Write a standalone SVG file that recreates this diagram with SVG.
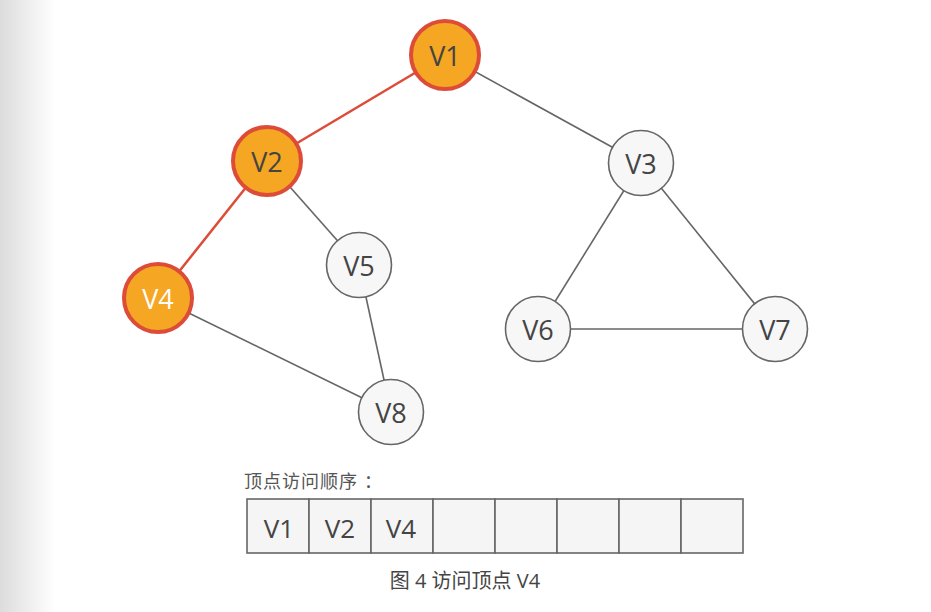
<svg xmlns="http://www.w3.org/2000/svg" width="931" height="612" viewBox="0 0 931 612">
<defs>
<linearGradient id="side" x1="0" y1="0" x2="1" y2="0">
<stop offset="0" stop-color="#dcdcdc"/>
<stop offset="1" stop-color="#ffffff"/>
</linearGradient>
<style>
.n circle{fill:#f7f7f7;stroke:#666;stroke-width:1.6}
.n.v circle{fill:#f5a623;stroke:#dd4b39;stroke-width:4}
.n text{font-family:"Open Sans","Noto Sans",sans-serif;font-size:27px;fill:#444;text-anchor:middle;dominant-baseline:central}
.n.w text{fill:#fdfdfd}
.e{stroke:#666;stroke-width:1.6;fill:none}
.e.r{stroke:#dd4b39;stroke-width:2.5}
.cell{fill:#f5f5f5;stroke:#666;stroke-width:1.6}
.ct{font-family:"Open Sans","Noto Sans",sans-serif;font-size:26px;fill:#444;text-anchor:middle;dominant-baseline:central}
.lbl{font-family:"Noto Sans CJK SC","Open Sans",sans-serif;font-size:18px;fill:#555;letter-spacing:1px}
.cap{font-family:"Open Sans","Noto Sans CJK SC",sans-serif;font-size:20px;fill:#444;text-anchor:middle}
</style>
</defs>
<rect width="931" height="612" fill="#fff"/>
<rect width="55" height="612" fill="url(#side)"/>
<g id="connectors">
<line class="e r" x1="445" y1="55" x2="267" y2="161"/>
<line class="e r" x1="267" y1="161" x2="158" y2="298"/>
<line class="e" x1="445" y1="55" x2="641" y2="163"/>
<line class="e" x1="267" y1="161" x2="359" y2="265"/>
<line class="e" x1="359" y1="265" x2="391" y2="412"/>
<line class="e" x1="158" y1="298" x2="391" y2="412"/>
<line class="e" x1="641" y1="163" x2="538" y2="329"/>
<line class="e" x1="641" y1="163" x2="775" y2="329"/>
<line class="e" x1="538" y1="329" x2="775" y2="329"/>
</g>
<g id="V1" class="n v"><circle cx="445" cy="55" r="34"/><text x="445" y="55">V1</text></g>
<g id="V2" class="n v"><circle cx="267" cy="161" r="34"/><text x="267" y="161">V2</text></g>
<g id="V4" class="n v w"><circle cx="158" cy="298" r="34"/><text x="158" y="298">V4</text></g>
<g id="V3" class="n"><circle cx="641" cy="163" r="32.5"/><text x="641" y="163">V3</text></g>
<g id="V5" class="n"><circle cx="359" cy="265" r="32.5"/><text x="359" y="265">V5</text></g>
<g id="V6" class="n"><circle cx="538" cy="329" r="32.5"/><text x="538" y="329">V6</text></g>
<g id="V7" class="n"><circle cx="775" cy="329" r="32.5"/><text x="775" y="329">V7</text></g>
<g id="V8" class="n"><circle cx="391" cy="412" r="32.5"/><text x="391" y="412">V8</text></g>
<g id="order">
<text class="lbl" x="244" y="488">顶点访问顺序<tspan dx="6">：</tspan></text>
<rect class="cell" x="247" y="499" width="62" height="54"/>
<rect class="cell" x="309" y="499" width="62" height="54"/>
<rect class="cell" x="371" y="499" width="62" height="54"/>
<rect class="cell" x="433" y="499" width="62" height="54"/>
<rect class="cell" x="495" y="499" width="62" height="54"/>
<rect class="cell" x="557" y="499" width="62" height="54"/>
<rect class="cell" x="619" y="499" width="62" height="54"/>
<rect class="cell" x="681" y="499" width="62" height="54"/>
<text class="ct" x="279" y="528">V1</text>
<text class="ct" x="340" y="528">V2</text>
<text class="ct" x="401" y="528">V4</text>
</g>
<text class="cap" x="465" y="588">图 4 访问顶点 V4</text>
</svg>
